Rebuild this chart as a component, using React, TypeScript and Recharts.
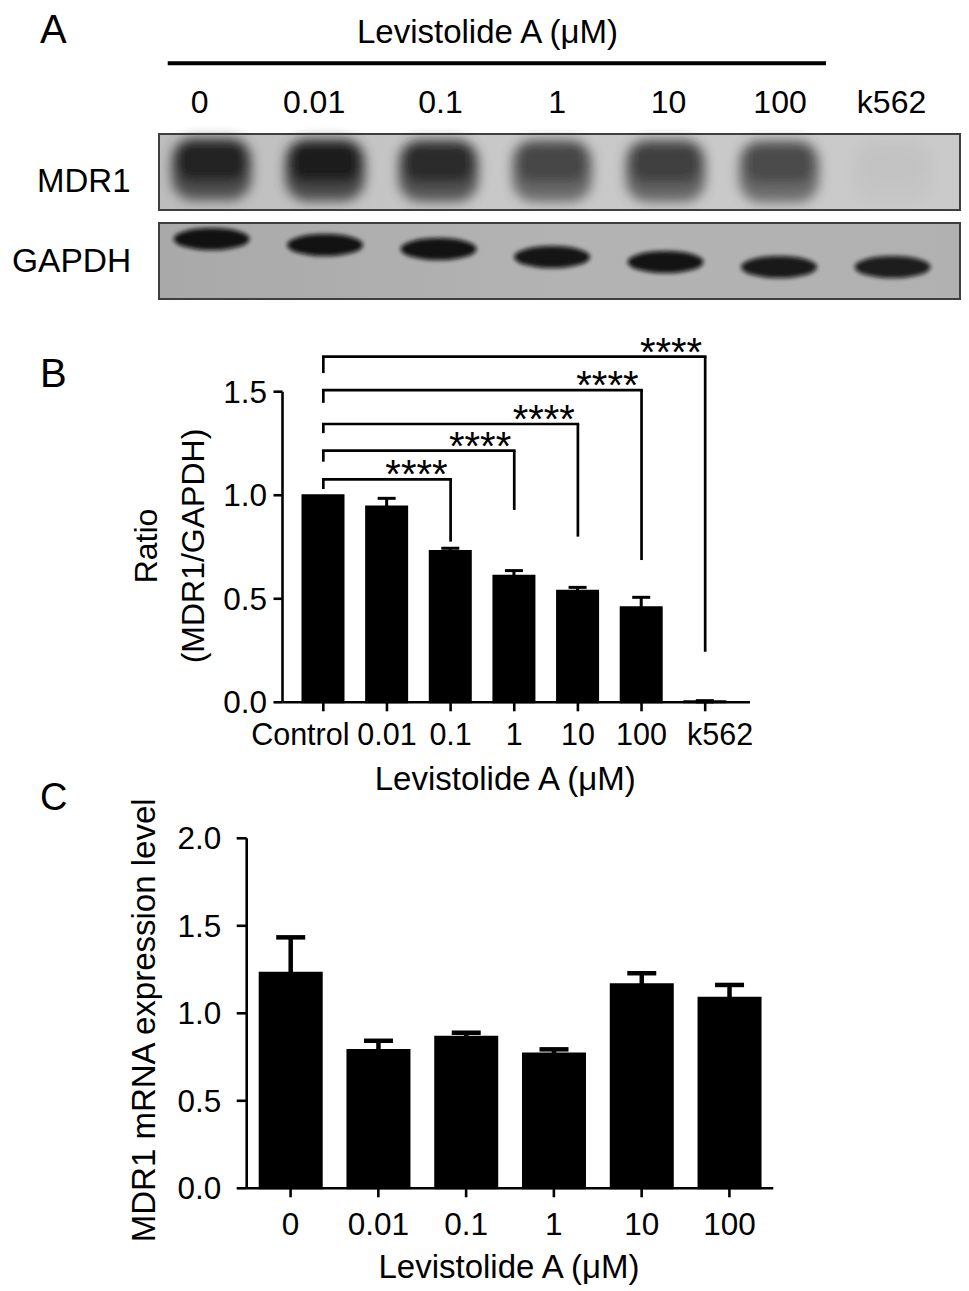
import React from 'react';
import {
  BarChart,
  Bar,
  XAxis,
  YAxis,
  ErrorBar,
  ReferenceLine,
  ScatterChart,
  Scatter,
} from 'recharts';

const FONT = '"Liberation Sans", Arial, Helvetica, sans-serif';

// ---------- Panel A (western blot lanes) ----------
const laneLabels = ['0', '0.01', '0.1', '1', '10', '100', 'k562'];
const laneIndex = [0, 1, 2, 3, 4, 5, 6];
const mdr1Intensity = [0.92, 0.96, 0.88, 0.72, 0.76, 0.7, 0.03];
const mdr1Level = [0.6, 0.59, 0.58, 0.58, 0.58, 0.57, 0.57];
const gapdhIntensity = [0.97, 0.97, 0.97, 0.95, 0.96, 0.92, 0.9];
const gapdhLevel = [0.782, 0.705, 0.654, 0.551, 0.487, 0.423, 0.423];

// ---------- Panel B ----------
const bCategories = ['Control', '0.01', '0.1', '1', '10', '100', 'k562'];
const bRatio = [1.0, 0.945, 0.731, 0.611, 0.539, 0.459, 0.005];
const bSem = [0, 0.04, 0.013, 0.025, 0.016, 0.048, 0.003];
const bTicks = [0, 0.5, 1.0, 1.5];
const bComparisons = ['0.1', '1', '10', '100', 'k562'];
const bBracketLevel = [1.077, 1.215, 1.344, 1.508, 1.669];
const bBracketStub = [1.03, 1.162, 1.3, 1.446, 1.59];
const bBracketEnd = [0.776, 0.929, 0.8, 0.687, 0.244];
const bSignificance = ['****', '****', '****', '****', '****'];

// ---------- Panel C ----------
const cCategories = ['0', '0.01', '0.1', '1', '10', '100'];
const cExpression = [1.232, 0.79, 0.866, 0.771, 1.166, 1.089];
const cSem = [0.202, 0.053, 0.023, 0.023, 0.063, 0.073];
const cTicks = [0, 0.5, 1.0, 1.5, 2.0];

const mdr1Rows = laneIndex.map((lane, i) => ({ lane, level: mdr1Level[i], intensity: mdr1Intensity[i] }));
const gapdhRows = laneIndex.map((lane, i) => ({ lane, level: gapdhLevel[i], intensity: gapdhIntensity[i] }));
const bRows = bCategories.map((label, i) => ({ label, ratio: bRatio[i], sem: bSem[i] }));
const cRows = cCategories.map((label, i) => ({ label, expr: cExpression[i], sem: cSem[i] }));

const laneDomain: [number, number] = [-0.472, 6.603];

const Mdr1Band = (props: any) => {
  const { cx, cy, payload } = props;
  if (cx == null || cy == null) return <g />;
  const k = payload.intensity;
  const id = `mdr1-blur-${payload.lane}`;
  return (
    <g>
      <defs>
        <filter id={id} x="-50%" y="-50%" width="200%" height="200%">
          <feGaussianBlur stdDeviation={6} />
        </filter>
      </defs>
      <g filter={`url(#${id})`} opacity={k}>
        <rect x={cx - 40} y={cy - 26} width={80} height={62} rx={22} fill="#474747" />
        <rect x={cx - 36} y={cy - 24} width={72} height={42} rx={16} fill="#181818" />
      </g>
    </g>
  );
};

const GapdhBand = (props: any) => {
  const { cx, cy, payload } = props;
  if (cx == null || cy == null) return <g />;
  const k = payload.intensity;
  const id = `gapdh-blur-${payload.lane}`;
  return (
    <g>
      <defs>
        <filter id={id} x="-50%" y="-50%" width="200%" height="200%">
          <feGaussianBlur stdDeviation={2.2} />
        </filter>
      </defs>
      <ellipse cx={cx} cy={cy} rx={38} ry={11} fill="#080808" opacity={k} filter={`url(#${id})`} />
    </g>
  );
};

const laneLabelShift = [-12, -11, 2, 5, 3, 1, -1];
const LaneTick = (props: any) => {
  const { x, y, payload } = props;
  return (
    <text x={x + (laneLabelShift[payload.value] ?? 0)} y={y} textAnchor="middle" fontSize={32} fontFamily={FONT} fill="#000">
      {laneLabels[payload.value]}
    </text>
  );
};

const bTickShift: Record<string, number> = { Control: -23, k562: 15 };
const BXTick = (props: any) => {
  const { x, y, payload } = props;
  return (
    <text x={x + (bTickShift[payload.value] ?? 0)} y={y} dy="0.71em" textAnchor="middle" fontSize={30.5} fontFamily={FONT} fill="#000">
      {payload.value}
    </text>
  );
};

const CXTick = (props: any) => {
  const { x, y, payload } = props;
  return (
    <text x={x} y={y} dy="0.71em" textAnchor="middle" fontSize={31.5} fontFamily={FONT} fill="#000">
      {payload.value}
    </text>
  );
};

const XTitle = (props: any) => {
  const vb = props.viewBox || { x: 0, y: 0, width: 0, height: 0 };
  return (
    <text x={vb.x + vb.width / 2 + props.shiftX} y={vb.y + props.shiftY} textAnchor="middle" fontSize={33} fontFamily={FONT} fill="#000">
      Levistolide A (μM)
    </text>
  );
};

const BYTitle = (props: any) => {
  const vb = props.viewBox || { x: 0, y: 91.7, width: 282.5, height: 310.6 };
  const cy = vb.y + vb.height / 2 - 1;
  const x1 = vb.x + 156.7;
  const x2 = vb.x + 204;
  return (
    <g>
      <text transform={`rotate(-90 ${x1} ${cy})`} x={x1} y={cy} textAnchor="middle" fontSize={32} fontFamily={FONT} fill="#000">
        Ratio
      </text>
      <text transform={`rotate(-90 ${x2} ${cy})`} x={x2} y={cy} textAnchor="middle" fontSize={32} fontFamily={FONT} fill="#000">
        (MDR1/GAPDH)
      </text>
    </g>
  );
};

const CYTitle = (props: any) => {
  const vb = props.viewBox || { x: 0, y: 58.3, width: 246.7, height: 350 };
  const cx = vb.x + 155;
  const cy = vb.y + vb.height / 2 + 7;
  return (
    <text transform={`rotate(-90 ${cx} ${cy})`} x={cx} y={cy} textAnchor="middle" fontSize={33} fontFamily={FONT} fill="#000">
      MDR1 mRNA expression level
    </text>
  );
};

const StarLabel = (props: any) => {
  const vb = props.viewBox || { x: 0, y: 0, width: 0, height: 0 };
  return (
    <text x={vb.x + vb.width - 3} y={vb.y + 9} textAnchor="end" fontSize={40} fontFamily={FONT} fill="#000">
      {props.stars}
    </text>
  );
};

const axisStyle = { stroke: '#000', strokeWidth: 2.6 };

export default function App() {
  return (
    <div
      style={{
        position: 'absolute',
        left: 0,
        top: 0,
        width: 969,
        height: 1291,
        background: '#fff',
        overflow: 'hidden',
        fontFamily: FONT,
      }}
    >
      {/* Decorative text for panel A and panel letters */}
      <svg style={{ position: 'absolute', left: 0, top: 0 }} width={969} height={1291}>
        <text x={40} y={43} fontSize={40} fontFamily={FONT} fill="#000">A</text>
        <text x={40} y={386.7} fontSize={40} fontFamily={FONT} fill="#000">B</text>
        <text x={40} y={810} fontSize={38} fontFamily={FONT} fill="#000">C</text>
        <text x={487.5} y={43.3} textAnchor="middle" fontSize={33} fontFamily={FONT} fill="#000">
          Levistolide A (μM)
        </text>
        <line x1={167.7} x2={826} y1={63.3} y2={63.3} stroke="#000" strokeWidth={4} />
        <text x={37} y={192} fontSize={33} fontFamily={FONT} fill="#000">MDR1</text>
        <text x={12} y={272} fontSize={33.5} fontFamily={FONT} fill="#000">GAPDH</text>
      </svg>

      {/* Membranes */}
      <div
        style={{
          position: 'absolute',
          left: 158.4,
          top: 133,
          width: 803,
          height: 78,
          boxSizing: 'border-box',
          border: '2.5px solid #3e3e3e',
          background: 'linear-gradient(90deg, #bdbdbd 0%, #c8c8c8 40%, #cacaca 100%)',
        }}
      />
      <div
        style={{
          position: 'absolute',
          left: 158.4,
          top: 222,
          width: 803,
          height: 78,
          boxSizing: 'border-box',
          border: '2.5px solid #3e3e3e',
          background: 'linear-gradient(90deg, #a9a9a9 0%, #b3b3b3 50%, #b1b1b1 100%)',
        }}
      />

      <div style={{ position: 'absolute', left: 158.4, top: 73 }}>
        <ScatterChart width={803} height={138} margin={{ top: 0, right: 0, bottom: 0, left: 0 }}>
          <XAxis
            type="number"
            dataKey="lane"
            orientation="top"
            domain={laneDomain}
            ticks={laneIndex}
            interval={0}
            axisLine={false}
            tickLine={false}
            tickSize={0}
            tickMargin={20}
            height={60}
            tick={(p: any) => <LaneTick {...p} />}
          />
          <YAxis type="number" dataKey="level" domain={[0, 1]} hide />
          <Scatter data={mdr1Rows} isAnimationActive={false} shape={(p: any) => <Mdr1Band {...p} />} />
        </ScatterChart>
      </div>

      <div style={{ position: 'absolute', left: 158.4, top: 222 }}>
        <ScatterChart width={803} height={78} margin={{ top: 0, right: 0, bottom: 0, left: 0 }}>
          <XAxis type="number" dataKey="lane" domain={laneDomain} hide />
          <YAxis type="number" dataKey="level" domain={[0, 1]} hide />
          <Scatter data={gapdhRows} isAnimationActive={false} shape={(p: any) => <GapdhBand {...p} />} />
        </ScatterChart>
      </div>

      {/* Panel B */}
      <div style={{ position: 'absolute', left: 0, top: 300 }}>
        <BarChart width={969} height={520} data={bRows} margin={{ top: 91.7, right: 219, bottom: 17.7, left: 0 }}>
          <XAxis
            dataKey="label"
            type="category"
            padding={{ left: 9, right: 13 }}
            axisLine={axisStyle}
            tickLine={axisStyle}
            tickSize={9}
            tickMargin={11.7}
            height={100}
            interval={0}
            tick={(p: any) => <BXTick {...p} />}
            label={(p: any) => <XTitle {...p} shiftX={-11} shiftY={87.7} />}
          />
          <YAxis
            type="number"
            domain={[0, 1.5]}
            ticks={bTicks}
            interval={0}
            width={282.5}
            axisLine={axisStyle}
            tickLine={axisStyle}
            tickSize={9}
            tickMargin={6.5}
            tickFormatter={(v: number) => v.toFixed(1)}
            tick={{ fontSize: 31.5, fill: '#000', fontFamily: FONT }}
            label={(p: any) => <BYTitle {...p} />}
          />
          <Bar dataKey="ratio" fill="#000" stroke="#000" strokeWidth={2} barSize={41} isAnimationActive={false}>
            <ErrorBar dataKey="sem" width={9} strokeWidth={3} stroke="#000" direction="y" isAnimationActive={false} />
          </Bar>
          {bComparisons.map((target, i) => (
            <ReferenceLine
              key={`h-${target}`}
              ifOverflow="visible"
              segment={[
                { x: 'Control', y: bBracketLevel[i] },
                { x: target, y: bBracketLevel[i] },
              ]}
              stroke="#000"
              strokeWidth={2.7}
              strokeLinecap="square"
              label={(p: any) => <StarLabel {...p} stars={bSignificance[i]} />}
            />
          ))}
          {bComparisons.map((target, i) => (
            <ReferenceLine
              key={`l-${target}`}
              ifOverflow="visible"
              segment={[
                { x: 'Control', y: bBracketLevel[i] },
                { x: 'Control', y: bBracketStub[i] },
              ]}
              stroke="#000"
              strokeWidth={2.7}
            />
          ))}
          {bComparisons.map((target, i) => (
            <ReferenceLine
              key={`r-${target}`}
              ifOverflow="visible"
              segment={[
                { x: target, y: bBracketLevel[i] },
                { x: target, y: bBracketEnd[i] },
              ]}
              stroke="#000"
              strokeWidth={2.7}
            />
          ))}
        </BarChart>
      </div>

      {/* Panel C */}
      <div style={{ position: 'absolute', left: 0, top: 780 }}>
        <BarChart width={969} height={511} data={cRows} margin={{ top: 58.3, right: 195.7, bottom: 2.7, left: 0 }}>
          <XAxis
            dataKey="label"
            type="category"
            padding={{ left: 0, right: 0 }}
            axisLine={axisStyle}
            tickLine={axisStyle}
            tickSize={9}
            tickMargin={15}
            height={100}
            interval={0}
            tick={(p: any) => <CXTick {...p} />}
            label={(p: any) => <XTitle {...p} shiftX={-1} shiftY={89.7} />}
          />
          <YAxis
            type="number"
            domain={[0, 2]}
            ticks={cTicks}
            interval={0}
            width={246.7}
            axisLine={axisStyle}
            tickLine={axisStyle}
            tickSize={10}
            tickMargin={15.5}
            tickFormatter={(v: number) => v.toFixed(1)}
            tick={{ fontSize: 31.5, fill: '#000', fontFamily: FONT }}
            label={(p: any) => <CYTitle {...p} />}
          />
          <Bar dataKey="expr" fill="#000" stroke="#000" strokeWidth={2} barSize={62} isAnimationActive={false}>
            <ErrorBar dataKey="sem" width={14.5} strokeWidth={4.5} stroke="#000" direction="y" isAnimationActive={false} />
          </Bar>
        </BarChart>
      </div>
    </div>
  );
}
